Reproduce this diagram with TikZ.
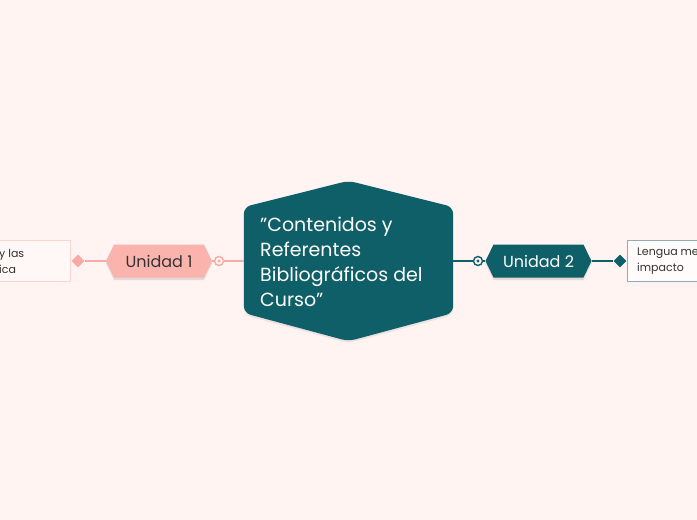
\documentclass[tikz,border=0pt]{standalone}
\usepackage{fontspec}
\setmainfont{Poppins}
\usetikzlibrary{shapes.symbols,shapes.geometric,shadows,positioning}
\definecolor{bgpink}{HTML}{FFF4F2}
\definecolor{teal}{HTML}{0F5F68}
\definecolor{rose}{HTML}{FBB3AD}
\definecolor{roseline}{HTML}{F7ABA4}
\definecolor{rosebox}{HTML}{FFD3CE}
\definecolor{tealbox}{HTML}{8DAFB4}
\definecolor{ink}{HTML}{333333}
\begin{document}
\begin{tikzpicture}[x=1pt,y=-1pt,
	unit/.style={signal, signal to=west and east, signal pointer angle=128,
		minimum width=106pt, minimum height=33pt, inner sep=0pt,
		font=\fontsize{16}{19}\selectfont,
		drop shadow={opacity=0.22, shadow xshift=0pt, shadow yshift=-2.5pt}},
	knob/.style={circle, draw, line width=1.4pt, fill=bgpink, minimum size=9pt, inner sep=0pt},
	tip/.style={diamond, minimum size=13pt, inner sep=0pt},
	leaf/.style={rectangle, minimum height=41pt, inner sep=0pt, line width=0.7pt},
	leaftext/.style={align=left, anchor=west, inner sep=0pt, text=ink,
		font=\fontsize{11}{16}\selectfont}]
		%%%%% START %%%%%
		
		\useasboundingbox[fill=bgpink] (0, 0) rectangle (697, 520);
		
		% central topic
		\node[minimum width=209pt, minimum height=160pt, inner sep=0pt] (main) at (348.5, 261) {};
		\fill[teal, rounded corners=7pt, drop shadow={opacity=0.15, shadow xshift=0pt, shadow yshift=-2pt}]
			(main.west |- 0, 207) -- (main.north) -- (main.east |- 0, 207)
			-- (main.east |- 0, 313) -- (main.south) -- (main.west |- 0, 313) -- cycle;
		\node[align=left, anchor=west, inner sep=0pt, text=white,
			font=\fontsize{19}{25}\selectfont] (maintext) at (260, 262)
			{"Contenidos y\\Referentes\\Bibliográficos del\\Curso"};
		
		% left branch
		\node[unit, fill=rose, text=ink] (u1) at (159, 261) {Unidad 1};
		\node[knob, draw=roseline] (k1) at (219, 261) {};
		\node[tip, fill=roseline] (d1) at (78, 261) {};
		\node[leaf, draw=rosebox, fill=bgpink!60!white, minimum width=90pt, anchor=east] (b1) at (71, 261) {};
		\node[leaftext] (t1) at (-1, 261) {y las\\ica};
		
		\draw[roseline, line width=1.6pt] (main.west) -- (k1.east);
		\draw[roseline, line width=1.6pt] (k1.west) -- (u1.east);
		\draw[roseline, line width=1.6pt] (u1.west) -- (d1.east);
		\fill[roseline] (k1) circle (1.6);
		
		% right branch
		\node[unit, fill=teal, text=white] (u2) at (538.5, 261) {Unidad 2};
		\node[knob, draw=teal] (k2) at (478, 261) {};
		\node[tip, fill=teal] (d2) at (620, 261) {};
		\node[leaf, draw=tealbox, fill=white!70!bgpink, minimum width=90pt, anchor=west] (b2) at (627, 261) {};
		\node[leaftext] (t2) at (637, 261) {Lengua me\\impacto};
		
		\draw[teal, line width=1.6pt] (main.east) -- (k2.west);
		\draw[teal, line width=1.6pt] (k2.east) -- (u2.west);
		\draw[teal, line width=1.6pt] (u2.east) -- (d2.west);
		\fill[teal] (k2) circle (1.6);
		
		%%%%% END %%%%%
	\end{tikzpicture}
\end{document}
